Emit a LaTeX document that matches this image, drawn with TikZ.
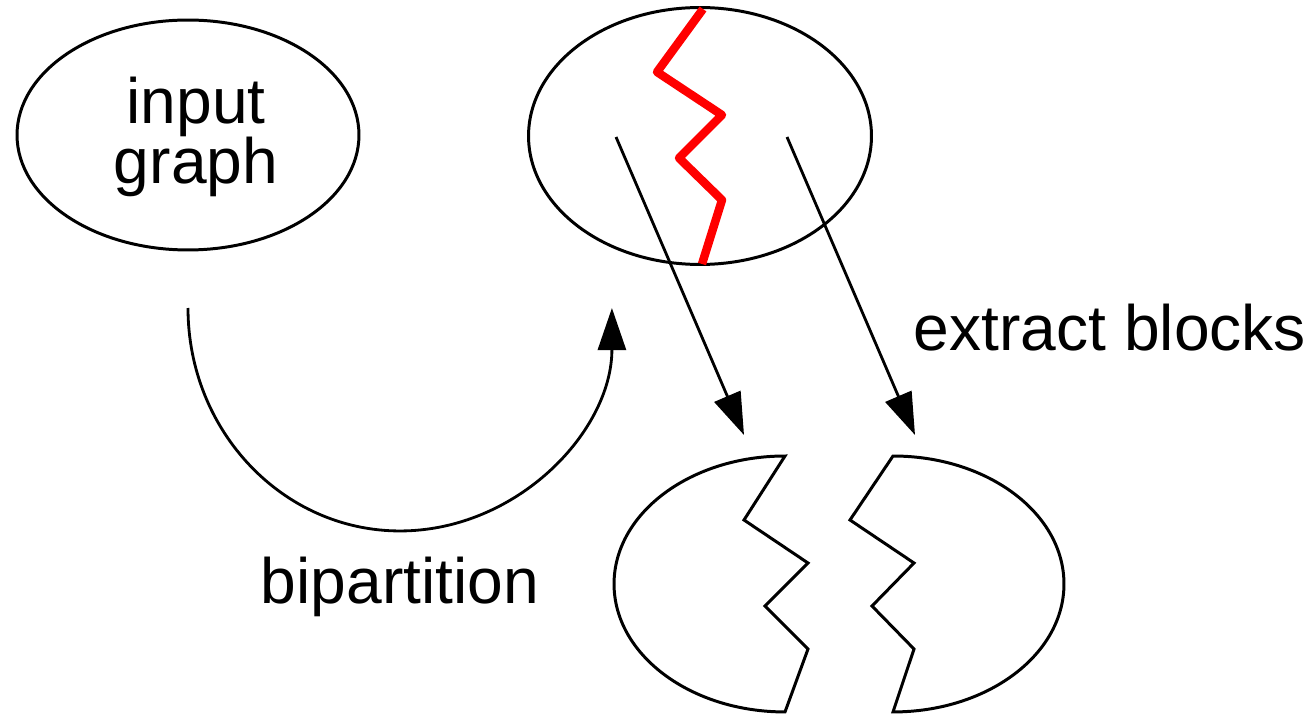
\documentclass[tikz,border=0pt]{standalone}
\usepackage{fontspec}
\setmainfont{Liberation Sans}
\usetikzlibrary{shapes.geometric,arrows.meta}
\tikzset{
  blob/.style={draw, ellipse, line width=1.7pt, inner sep=0pt},
  lbl/.style={font=\fontsize{36.5}{34.6}\selectfont, inner sep=0pt},
  arr/.style={line width=1.6pt, -{Triangle[length=24pt,width=16pt]}},
  cut/.style={draw=red, line width=4.8pt, line join=round},
  piece/.style={draw, line width=1.7pt, line join=miter}
}
\begin{document}
\begin{tikzpicture}[x=0.02cm,y=-0.02cm]
\useasboundingbox (0,0) rectangle (1315,716);
% input graph
\node[blob, minimum width=6.84cm, minimum height=4.6cm] (g) at (188,135) {};
\node[lbl, align=center] (gt) at (196,137) {input\\graph};
% partitioned graph
\node[blob, minimum width=6.86cm, minimum height=5.14cm] (p) at (700,136) {};
\draw[cut] (703,9) -- (657,72) -- (722,115) -- (679,158) -- (722,200) -- (702,264);
% blocks
\draw[piece] (785,456) coordinate (lt) arc[start angle=90, end angle=270, x radius=3.42cm, y radius=2.56cm]
  -- (808,649) -- (765,606) -- (808,563) -- (744,520) -- cycle;
\draw[piece] (893,456) coordinate (rt) arc[start angle=90, end angle=-90, x radius=3.42cm, y radius=2.56cm]
  -- (914,649) -- (872,606) -- (914,563) -- (850,520) -- cycle;
% extract arrows
\coordinate (a1s) at (616,137);
\coordinate (a1e) at (744,435);
\coordinate (a2s) at (787,137);
\coordinate (a2e) at (915,435);
\draw[arr] (a1s) -- (a1e);
\draw[arr] (a2s) -- (a2e);
% bipartition arrow
\coordinate (bs) at (188,308);
\draw[arr] (bs) arc[start angle=180, end angle=360, x radius=4.24cm, y radius=4.46cm] coordinate (be);
% labels
\node[lbl, anchor=base] (bl) at (400,603) {bipartition};
\node[lbl, anchor=base] (el) at (1110,350) {extract blocks};
\end{tikzpicture}
\end{document}
